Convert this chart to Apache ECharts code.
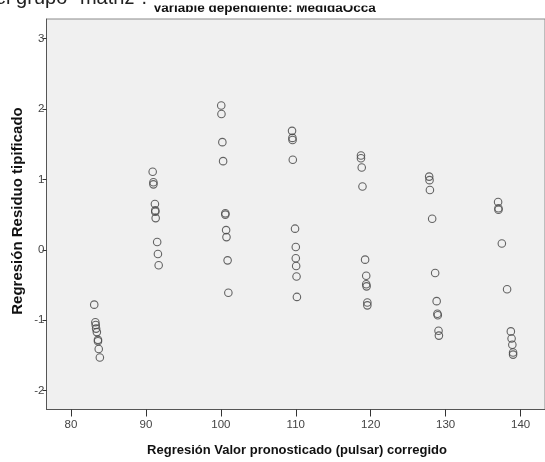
<!DOCTYPE html>
<html>
<head>
<meta charset="utf-8">
<script src="https://cdn.jsdelivr.net/npm/echarts@6/dist/echarts.min.js"></script>
<style>
  html, body { margin: 0; padding: 0; background: #ffffff; }
  #chart { width: 545px; height: 462px; }
</style>
</head>
<body>
<div id="chart"></div>
<script>
// Standardized residuals against corrected predicted values (pulsar)
const predicted = [
  83.1, 83.25, 83.3, 83.35, 83.45, 83.6, 83.6, 83.7, 83.85,
  90.9, 91.0, 91.0, 91.2, 91.25, 91.25, 91.3, 91.5, 91.6, 91.7,
  100.05, 100.08, 100.2, 100.3, 100.6, 100.6, 100.7, 100.75, 100.9, 101.0,
  109.5, 109.55, 109.57, 109.6, 109.9, 110.0, 110.0, 110.05, 110.1, 110.15,
  118.7, 118.7, 118.8, 118.9, 119.25, 119.4, 119.4, 119.45, 119.55, 119.55,
  127.8, 127.85, 127.9, 128.2, 128.6, 128.8, 128.9, 128.95, 129.05, 129.1,
  137.0, 137.05, 137.05, 137.5, 138.2, 138.7, 138.8, 138.9, 139.0, 139.0
];
const residual = [
  -0.78, -1.03, -1.07, -1.12, -1.17, -1.28, -1.30, -1.41, -1.53,
  1.11, 0.96, 0.93, 0.65, 0.56, 0.54, 0.45, 0.11, -0.06, -0.22,
  2.05, 1.93, 1.53, 1.26, 0.52, 0.50, 0.28, 0.18, -0.15, -0.61,
  1.69, 1.59, 1.56, 1.28, 0.30, 0.04, -0.12, -0.23, -0.38, -0.67,
  1.34, 1.30, 1.17, 0.90, -0.14, -0.37, -0.49, -0.52, -0.75, -0.79,
  1.04, 0.99, 0.85, 0.44, -0.33, -0.73, -0.91, -0.93, -1.15, -1.22,
  0.68, 0.59, 0.57, 0.09, -0.56, -1.16, -1.26, -1.35, -1.46, -1.49
];
const xTicks = [80, 90, 100, 110, 120, 130, 140];
const yTicks = [-2, -1, 0, 1, 2, 3];

const xTitle = 'Regresión Valor pronosticado (pulsar) corregido';
const yTitle = 'Regresión Residuo tipificado';
const headText = 'el grupo "matriz".';
const subText = 'Variable dependiente: MedidaOcca';

const points = predicted.map((x, i) => [x, residual[i]]);

const tickFont = "'Liberation Sans Narrow', 'Arial Narrow', 'Liberation Sans', Arial, sans-serif";
const titleFont = "'Liberation Sans', Arial, sans-serif";

const chart = echarts.init(document.getElementById('chart'), null, { renderer: 'canvas' });
chart.setOption({
  animation: false,
  backgroundColor: '#ffffff',
  grid: {
    left: 46.5, top: 19, right: -2, bottom: 52.5,
    show: true, backgroundColor: '#f0f0f0', borderColor: '#8a8a8a', borderWidth: 1
  },
  xAxis: {
    type: 'value', min: 76.73, max: 143.26,
    axisLine: { show: true, onZero: false, lineStyle: { color: '#555555', width: 1 } },
    axisTick: { show: true, length: 7, customValues: xTicks, lineStyle: { color: '#333333' } },
    axisLabel: { customValues: xTicks, margin: 9, color: '#444444', fontSize: 11.5, fontFamily: tickFont },
    splitLine: { show: false }
  },
  yAxis: {
    type: 'value', min: -2.27, max: 3.28,
    axisLine: { show: true, onZero: false, lineStyle: { color: '#555555', width: 1 } },
    axisTick: { show: true, length: 4, customValues: yTicks, lineStyle: { color: '#333333' } },
    axisLabel: { customValues: yTicks, margin: 2, color: '#444444', fontSize: 11.5, fontFamily: tickFont },
    splitLine: { show: false }
  },
  graphic: [
    { type: 'text', left: 153, top: 1.5, z: 10,
      style: { text: subText, fill: '#111111', font: "bold 13.5px 'Liberation Sans', Arial, sans-serif" } },
    { type: 'rect', shape: { x: 140, y: 0, width: 250, height: 5.5 }, z: 11,
      style: { fill: '#ffffff' } },
    { type: 'text', x: -5, y: -12, z: 12,
      style: { text: headText, fill: '#222222', font: "20px 'Liberation Sans', Arial, sans-serif" } },
    { type: 'text', x: 297, y: 450, z: 10,
      style: { text: xTitle, fill: '#111111', align: 'center', verticalAlign: 'middle',
               font: "bold 13px " + titleFont } },
    { type: 'text', x: 18, y: 211, rotation: Math.PI / 2, z: 10,
      style: { text: yTitle, fill: '#111111', align: 'center', verticalAlign: 'middle',
               font: "bold 15px " + titleFont } }
  ],
  series: [{
    type: 'scatter',
    data: points,
    symbol: 'circle',
    symbolSize: 7.5,
    itemStyle: { color: 'rgba(0,0,0,0)', borderColor: '#4a4a4a', borderWidth: 1.1, opacity: 0.85 }
  }]
});
</script>
</body>
</html>
